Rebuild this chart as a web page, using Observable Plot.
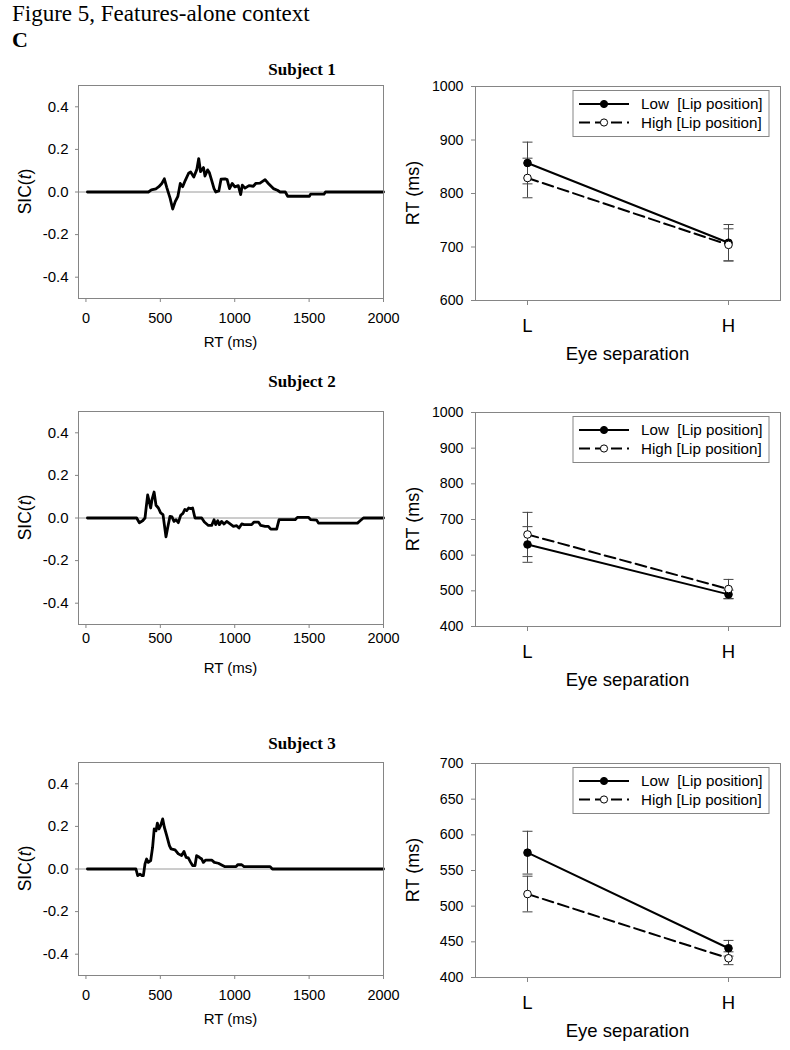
<!DOCTYPE html>
<html><head><meta charset="utf-8">
<script src="https://cdn.jsdelivr.net/npm/d3@7"></script>
<script src="https://cdn.jsdelivr.net/npm/@observablehq/plot@0.6"></script>
<style>
body{margin:0;background:#fff;}
#root{position:relative;width:790px;height:1050px;overflow:hidden;background:#fff;}
#root svg{position:absolute;overflow:visible;}
</style></head><body><div id="root"></div>
<script>
// ---------------- data ----------------
const figureTitle = "Figure 5, Features-alone context";
const panelLetter = "C";
const subjects = ["Subject 1", "Subject 2", "Subject 3"];

// SIC(t) curves: [RT (ms), SIC value]
const sic1 = [[10,0],[420,0],[440,0.01],[470,0.015],[490,0.025],[510,0.04],[527,0.062],[543,0.022],[566,-0.03],[583,-0.08],[600,-0.045],[618,-0.02],[634,0.04],[650,0.025],[668,0.055],[690,0.088],[704,0.094],[725,0.07],[745,0.105],[758,0.157],[770,0.096],[790,0.115],[800,0.075],[818,0.104],[830,0.09],[845,0.055],[861,0.016],[873,0],[893,0.005],[908,0.06],[935,0.062],[949,0.058],[965,0.016],[983,0.04],[1001,0.024],[1024,0.03],[1040,-0.012],[1051,0.032],[1069,0.018],[1096,0.03],[1125,0.027],[1141,0.04],[1170,0.042],[1204,0.058],[1226,0.04],[1260,0.016],[1287,0.008],[1305,0],[1340,0],[1356,-0.02],[1502,-0.02],[1510,-0.01],[1600,-0.01],[1610,0],[2000,0]];
const sic2 = [[10,0],[341,0],[359,-0.022],[381,-0.013],[397,0],[405,0.05],[415,0.108],[426,0.075],[435,0.047],[444,0.086],[458,0.122],[471,0.06],[487,0.047],[502,0.024],[518,0.016],[527,-0.031],[538,-0.088],[549,-0.047],[565,0.008],[578,0.005],[592,-0.016],[605,-0.008],[621,-0.022],[637,0.013],[652,0.022],[665,0.04],[677,0.035],[690,0.047],[704,0.044],[717,0.047],[733,0],[778,0],[796,-0.019],[823,-0.035],[845,-0.035],[861,-0.008],[872,-0.031],[886,-0.013],[897,-0.031],[912,-0.016],[928,-0.028],[946,-0.016],[969,-0.028],[991,-0.039],[1013,-0.036],[1029,-0.047],[1047,-0.028],[1063,-0.031],[1114,-0.031],[1130,-0.019],[1159,-0.019],[1175,-0.035],[1204,-0.039],[1226,-0.039],[1242,-0.052],[1282,-0.052],[1298,-0.008],[1406,-0.008],[1421,0.003],[1495,0.003],[1511,-0.008],[1551,-0.01],[1563,-0.024],[1825,-0.024],[1843,-0.013],[1865,0],[2000,0]];
const sic3 = [[10,0],[336,0],[348,-0.031],[363,-0.024],[377,-0.031],[386,-0.031],[397,0.024],[408,0.047],[419,0.031],[435,0.039],[448,0.102],[459,0.188],[471,0.18],[480,0.215],[491,0.188],[502,0.204],[516,0.235],[527,0.196],[543,0.157],[561,0.11],[572,0.094],[599,0.09],[621,0.071],[643,0.063],[659,0.082],[673,0.055],[688,0.052],[704,0.031],[717,0.016],[733,0.016],[744,0.063],[762,0.055],[778,0.047],[789,0.031],[805,0.042],[845,0.042],[863,0.031],[890,0.027],[912,0.019],[935,0.011],[1009,0.011],[1020,0.02],[1047,0.02],[1063,0.011],[1238,0.011],[1253,0],[2000,0]];
const sicTicksX = [0, 500, 1000, 1500, 2000];
const sicTicksY = [-0.4, -0.2, 0, 0.2, 0.4];
const sicDomainX = [-50, 2000];
const sicDomainY = [-0.5, 0.5];

// Mean RT by eye separation (L, H) and lip position
const separations = ["L", "H"];
const lipLevels = ["Low  [Lip position]", "High [Lip position]"];
const rtLow  = [[857, 708], [630, 490], [575, 441]];
const errLow = [[39, 34], [50, 12], [30, 11]];
const rtHigh  = [[829, 704], [658, 505], [517, 427]];
const errHigh = [[37, 30], [62, 27], [25, 9]];
const rtDomains = [[600, 1000], [400, 1000], [400, 700]];
const rtTicks = [[600, 700, 800, 900, 1000], [400, 500, 600, 700, 800, 900, 1000], [400, 450, 500, 550, 600, 650, 700]];

// ---------------- layout ----------------
const root = document.getElementById("root");
const SANS = "'Liberation Sans', Arial, Helvetica, sans-serif";
const SERIF = "'Liberation Serif', 'Times New Roman', serif";
const GRAY = "#858585";
const leftFrameTops = [85, 411, 762];
const rightFrameTops = [86, 412, 763];
const xLabelPad = [10, 4, 10];
const titleBaselines = [75, 386.5, 748.5];

const capSymbol = {draw(ctx, size) { const r = Math.sqrt(size / Math.PI); ctx.moveTo(-r, 0); ctx.lineTo(r, 0); }};

// overlay text
const over = d3.select(root).append("svg").attr("width", 790).attr("height", 1050).style("left", "0px").style("top", "0px");
over.append("text").attr("x", 12).attr("y", 21).attr("font-family", SERIF).attr("font-size", 23).text(figureTitle);
over.append("text").attr("x", 12).attr("y", 47).attr("font-family", SERIF).attr("font-weight", "bold").attr("font-size", 22).text(panelLetter);
subjects.forEach((s, i) => {
  over.append("text").attr("x", 302).attr("y", titleBaselines[i]).attr("text-anchor", "middle")
    .attr("font-family", SERIF).attr("font-weight", "bold").attr("font-size", 17).text(s);
});

function sicPanel(data, i) {
  const mt = 10, fh = 213;
  const svg = Plot.plot({
    width: 395, height: mt + fh + 55,
    marginLeft: 78, marginRight: 12, marginTop: mt, marginBottom: 55,
    style: {fontFamily: SANS, fontSize: "15px", color: "black", background: "transparent", overflow: "visible"},
    x: {domain: sicDomainX},
    y: {domain: sicDomainY},
    marks: [
      Plot.ruleY([0], {stroke: "#9a9a9a", strokeWidth: 1}),
      Plot.line(data, {x: d => d[0], y: d => d[1], stroke: "black", strokeWidth: 2.8, strokeLinejoin: "round"}),
      Plot.frame({stroke: GRAY}),
      Plot.axisX({ticks: sicTicksX, tickSize: 4, tickPadding: xLabelPad[i], tickFormat: d => String(d), stroke: GRAY, fill: "black", fontSize: 14.5, label: null}),
      Plot.axisY({ticks: sicTicksY, tickSize: 3, tickPadding: 7, tickFormat: d => d.toFixed(1), stroke: GRAY, fill: "black", fontSize: 15, label: null})
    ]
  });
  svg.style.left = "0px";
  svg.style.top = (leftFrameTops[i] - mt) + "px";
  const s = d3.select(svg);
  const lab = s.append("text").attr("transform", `translate(25,${mt + fh / 2}) rotate(-90)`)
    .attr("text-anchor", "middle").attr("dy", "0.35em").attr("font-size", 17.5).attr("fill", "black");
  lab.append("tspan").text("SIC(");
  lab.append("tspan").attr("font-style", "italic").text("t");
  lab.append("tspan").text(")");
  s.append("text").attr("x", 78 + 305 / 2).attr("y", mt + fh + 44).attr("dy", "0.35em")
    .attr("text-anchor", "middle").attr("font-size", 15).attr("fill", "black").text("RT (ms)");
  root.appendChild(svg);
}

function rtPanel(i) {
  const mt = 10, fh = 214, ml = 80;
  const rows = [];
  separations.forEach((sep, j) => {
    rows.push({sep, lip: "Low", rt: rtLow[i][j], err: errLow[i][j]});
    rows.push({sep, lip: "High", rt: rtHigh[i][j], err: errHigh[i][j]});
  });
  const low = rows.filter(d => d.lip === "Low");
  const high = rows.filter(d => d.lip === "High");
  const svg = Plot.plot({
    width: 395, height: mt + fh + 70,
    marginLeft: ml, marginRight: 10, marginTop: mt, marginBottom: 70,
    style: {fontFamily: SANS, fontSize: "14px", color: "black", background: "transparent", overflow: "visible"},
    x: {type: "point", domain: separations, padding: 0.255},
    y: {domain: rtDomains[i]},
    marks: [
      Plot.frame({stroke: GRAY}),
      Plot.ruleX(rows, {x: "sep", y1: d => d.rt - d.err, y2: d => d.rt + d.err, stroke: "#444", strokeWidth: 1}),
      Plot.dot(rows, {x: "sep", y: d => d.rt + d.err, symbol: capSymbol, r: 5, stroke: "#444", strokeWidth: 1}),
      Plot.dot(rows, {x: "sep", y: d => d.rt - d.err, symbol: capSymbol, r: 5, stroke: "#444", strokeWidth: 1}),
      Plot.line(high, {x: "sep", y: "rt", stroke: "black", strokeWidth: 2, strokeDasharray: "11,5"}),
      Plot.line(low, {x: "sep", y: "rt", stroke: "black", strokeWidth: 2}),
      Plot.dot(low, {x: "sep", y: "rt", r: 3.8, fill: "black", stroke: "black", strokeWidth: 1}),
      Plot.dot(high, {x: "sep", y: "rt", r: 3.8, fill: "white", stroke: "black", strokeWidth: 1}),
      Plot.axisX({tickSize: 5, tickPadding: 13, stroke: GRAY, fill: "black", fontSize: 18.5, label: null}),
      Plot.axisY({ticks: rtTicks[i], tickSize: 4, tickPadding: 8, tickFormat: d => String(d), stroke: GRAY, fill: "black", fontSize: 14.2, label: null})
    ]
  });
  svg.style.left = "395px";
  svg.style.top = (rightFrameTops[i] - mt) + "px";
  const s = d3.select(svg);
  s.append("text").attr("transform", `translate(18,${mt + fh / 2}) rotate(-90)`)
    .attr("text-anchor", "middle").attr("dy", "0.35em").attr("font-size", 18).attr("fill", "black").text("RT (ms)");
  s.append("text").attr("x", ml + 305 / 2).attr("y", mt + fh + 54).attr("dy", "0.35em")
    .attr("text-anchor", "middle").attr("font-size", 18.5).attr("fill", "black").text("Eye separation");
  // legend
  const g = s.append("g").attr("transform", `translate(${ml + 98},${mt + 4.5})`);
  g.append("rect").attr("width", 196).attr("height", 46).attr("fill", "white").attr("stroke", GRAY).attr("stroke-width", 1);
  lipLevels.forEach((lab, k) => {
    const y = 13.5 + k * 18.5;
    g.append("line").attr("x1", 6).attr("x2", 56).attr("y1", y).attr("y2", y)
      .attr("stroke", "black").attr("stroke-width", 2).attr("stroke-dasharray", k ? "11,5" : null);
    g.append("circle").attr("cx", 31).attr("cy", y).attr("r", 3.6)
      .attr("fill", k ? "white" : "black").attr("stroke", "black");
    g.append("text").attr("x", 68).attr("y", y).attr("dy", "0.35em").attr("font-size", 15.2)
      .attr("text-anchor", "start").attr("fill", "black").style("white-space", "pre").text(lab);
  });
  root.appendChild(svg);
}

[sic1, sic2, sic3].forEach((d, i) => sicPanel(d, i));
[0, 1, 2].forEach(i => rtPanel(i));
</script>
</body></html>
